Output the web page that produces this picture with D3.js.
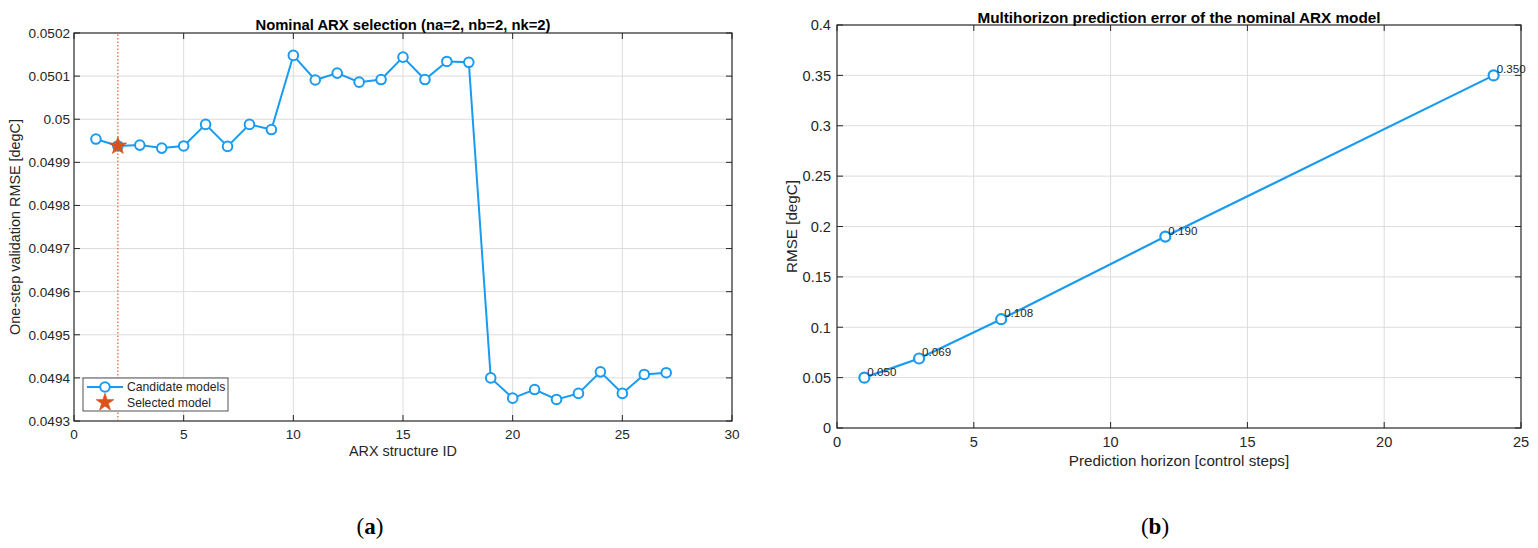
<!DOCTYPE html>
<html>
<head>
<meta charset="utf-8">
<script src="https://cdn.jsdelivr.net/npm/d3@7"></script>
<style>
  body { margin: 0; background: #fff; }
  svg { display: block; font-family: "Liberation Sans", Arial, sans-serif; }
  .tick-label { fill: #262626; }
  .axis-title { fill: #262626; }
  .plot-title { font-weight: bold; fill: #000; }
  .caption { font-family: "Liberation Serif", "DejaVu Serif", serif; font-size: 23px; fill: #000; }
</style>
</head>
<body>
<svg id="chart" width="1538" height="548"></svg>
<script>
// ---- panel (a): candidate ARX structures ----
const structureIds = d3.range(1, 28);
const validationRmse = [
    0.049954, 0.049938, 0.049940, 0.049933, 0.049938, 0.049988, 0.049937, 0.049988, 0.049976,
    0.050148, 0.050091, 0.050107, 0.050086, 0.050092, 0.050144, 0.050092, 0.050134, 0.050132,
    0.049400, 0.049353, 0.049373, 0.049350, 0.049364, 0.049414, 0.049364, 0.049408, 0.049412
];
const selectedId = 2;
const aXTicks = [0, 5, 10, 15, 20, 25, 30];
const aYTicks = [0.0493, 0.0494, 0.0495, 0.0496, 0.0497, 0.0498, 0.0499, 0.05, 0.0501, 0.0502];
const aYTickLabels = ["0.0493", "0.0494", "0.0495", "0.0496", "0.0497", "0.0498", "0.0499", "0.05", "0.0501", "0.0502"];

// ---- panel (b): multihorizon prediction ----
const horizons = [1, 3, 6, 12, 24];
const horizonRmse = [0.050, 0.069, 0.108, 0.190, 0.350];
const bXTicks = [0, 5, 10, 15, 20, 25];
const bYTicks = [0, 0.05, 0.1, 0.15, 0.2, 0.25, 0.3, 0.35, 0.4];
const bYTickLabels = ["0", "0.05", "0.1", "0.15", "0.2", "0.25", "0.3", "0.35", "0.4"];

const blue = "#1a9bf2";
const orange = "#d95319";
const axisColor = "#262626";
const gridColor = "#dcdcdc";

const svg = d3.select("#chart");

// draws grid, box and inward ticks for one MATLAB-style axes
function drawAxes(g, x, y, xTicks, yTicks, yLabels, opt) {
    let x0 = x.range()[0], x1 = x.range()[1];
    let y0 = y.range()[0], y1 = y.range()[1];
    let tl = 6;

    g.append("g").selectAll("line").data(xTicks.slice(1, -1)).join("line")
        .attr("x1", d => x(d)).attr("x2", d => x(d))
        .attr("y1", y0).attr("y2", y1)
        .attr("stroke", gridColor).attr("stroke-width", 1);
    g.append("g").selectAll("line").data(yTicks.slice(1, -1)).join("line")
        .attr("y1", d => y(d)).attr("y2", d => y(d))
        .attr("x1", x0).attr("x2", x1)
        .attr("stroke", gridColor).attr("stroke-width", 1);

    // inward ticks on all four sides
    let ticks = g.append("g").attr("stroke", axisColor).attr("stroke-width", 1);
    xTicks.forEach(d => {
        ticks.append("line").attr("x1", x(d)).attr("x2", x(d)).attr("y1", y0).attr("y2", y0 - tl);
        ticks.append("line").attr("x1", x(d)).attr("x2", x(d)).attr("y1", y1).attr("y2", y1 + tl);
    });
    yTicks.forEach(d => {
        ticks.append("line").attr("y1", y(d)).attr("y2", y(d)).attr("x1", x0).attr("x2", x0 + tl);
        ticks.append("line").attr("y1", y(d)).attr("y2", y(d)).attr("x1", x1).attr("x2", x1 - tl);
    });

    g.append("rect")
        .attr("x", x0).attr("y", y1)
        .attr("width", x1 - x0).attr("height", y0 - y1)
        .attr("fill", "none").attr("stroke", axisColor).attr("stroke-width", 1.2);

    g.append("g").selectAll("text").data(xTicks).join("text")
        .attr("class", "tick-label").attr("font-size", opt.tickSize)
        .attr("x", d => x(d)).attr("y", y0 + opt.xTickOffset)
        .attr("text-anchor", "middle")
        .text(d => d);
    g.append("g").selectAll("text").data(yTicks).join("text")
        .attr("class", "tick-label").attr("font-size", opt.tickSize)
        .attr("x", x0 - opt.yTickGap).attr("y", d => y(d) + opt.tickSize * 0.36)
        .attr("text-anchor", "end")
        .text((d, i) => yLabels[i]);

    g.append("text").attr("class", "axis-title").attr("font-size", opt.labelSize)
        .attr("x", (x0 + x1) / 2).attr("y", y0 + opt.xLabelOffset)
        .attr("text-anchor", "middle").text(opt.xLabel);
    g.append("text").attr("class", "axis-title").attr("font-size", opt.labelSize)
        .attr("transform", `translate(${opt.yLabelX},${(y0 + y1) / 2}) rotate(-90)`)
        .attr("text-anchor", "middle").text(opt.yLabel);
    g.append("text").attr("class", "plot-title").attr("font-size", opt.titleSize)
        .attr("x", (x0 + x1) / 2).attr("y", y1 - opt.titleGap)
        .attr("text-anchor", "middle").text(opt.title);
}

/* * * * panel (a) * * * */
let xa = d3.scaleLinear().domain([0, 30]).range([74, 732]);
let ya = d3.scaleLinear().domain([0.0493, 0.0502]).range([421, 33]);
let ga = svg.append("g");

drawAxes(ga, xa, ya, aXTicks, aYTicks, aYTickLabels, {
    tickSize: 13.6, labelSize: 14.4, titleSize: 14.8,
    xTickOffset: 18, yTickGap: 4, xLabelOffset: 35, yLabelX: 20, titleGap: 3,
    xLabel: "ARX structure ID",
    yLabel: "One-step validation RMSE [degC]",
    title: "Nominal ARX selection (na=2, nb=2, nk=2)"
});

// selected structure marker line
ga.append("line")
    .attr("x1", xa(selectedId)).attr("x2", xa(selectedId))
    .attr("y1", ya.range()[0]).attr("y2", ya.range()[1])
    .attr("stroke", orange).attr("stroke-width", 1.1)
    .attr("stroke-dasharray", "1.5,2");

let lineA = d3.line().x((d, i) => xa(structureIds[i])).y(d => ya(d));
ga.append("path").datum(validationRmse)
    .attr("d", lineA).attr("fill", "none")
    .attr("stroke", blue).attr("stroke-width", 2);

ga.append("g").selectAll("circle").data(validationRmse).join("circle")
    .attr("cx", (d, i) => xa(structureIds[i])).attr("cy", d => ya(d))
    .attr("r", 4.8).attr("fill", "#fff")
    .attr("stroke", blue).attr("stroke-width", 2);

let star = d3.symbol().type(d3.symbolStar).size(95);
ga.append("path")
    .attr("d", star)
    .attr("transform", `translate(${xa(selectedId)},${ya(validationRmse[selectedId - 1])})`)
    .attr("fill", orange).attr("stroke", orange).attr("stroke-width", 0.8);

// legend
let leg = ga.append("g").attr("transform", "translate(83,378)");
leg.append("rect").attr("width", 145).attr("height", 33)
    .attr("fill", "#fff").attr("stroke", axisColor).attr("stroke-width", 0.8);
leg.append("line").attr("x1", 4).attr("x2", 40).attr("y1", 9).attr("y2", 9)
    .attr("stroke", blue).attr("stroke-width", 2);
leg.append("circle").attr("cx", 22).attr("cy", 9).attr("r", 4.8)
    .attr("fill", "#fff").attr("stroke", blue).attr("stroke-width", 2);
leg.append("path").attr("d", star).attr("transform", "translate(22,24.5)")
    .attr("fill", orange).attr("stroke", orange).attr("stroke-width", 0.8);
leg.append("text").attr("class", "tick-label").attr("font-size", 12.2).attr("x", 44).attr("y", 13).text("Candidate models");
leg.append("text").attr("class", "tick-label").attr("font-size", 12.2).attr("x", 44).attr("y", 28.5).text("Selected model");

/* * * * panel (b) * * * */
let xb = d3.scaleLinear().domain([0, 25]).range([837, 1521]);
let yb = d3.scaleLinear().domain([0, 0.4]).range([428, 25]);
let gb = svg.append("g");

drawAxes(gb, xb, yb, bXTicks, bYTicks, bYTickLabels, {
    tickSize: 14.6, labelSize: 15.2, titleSize: 15.3,
    xTickOffset: 19, yTickGap: 6, xLabelOffset: 37.5, yLabelX: 797, titleGap: 2.5,
    xLabel: "Prediction horizon [control steps]",
    yLabel: "RMSE [degC]",
    title: "Multihorizon prediction error of the nominal ARX model"
});

let lineB = d3.line().x((d, i) => xb(horizons[i])).y(d => yb(d));
gb.append("path").datum(horizonRmse)
    .attr("d", lineB).attr("fill", "none")
    .attr("stroke", blue).attr("stroke-width", 2.2);

gb.append("g").selectAll("circle").data(horizonRmse).join("circle")
    .attr("cx", (d, i) => xb(horizons[i])).attr("cy", d => yb(d))
    .attr("r", 5).attr("fill", "#fff")
    .attr("stroke", blue).attr("stroke-width", 2.2);

gb.append("g").selectAll("text").data(horizonRmse).join("text")
    .attr("x", (d, i) => xb(horizons[i]) + 3).attr("y", d => yb(d) - 2)
    .attr("font-size", 11.6).attr("fill", axisColor)
    .text(d => d.toFixed(3));

// captions
svg.append("text").attr("class", "caption")
    .attr("x", 370).attr("y", 534).attr("text-anchor", "middle")
    .html('(<tspan font-weight="bold">a</tspan>)');
svg.append("text").attr("class", "caption")
    .attr("x", 1155).attr("y", 534).attr("text-anchor", "middle")
    .html('(<tspan font-weight="bold">b</tspan>)');
</script>
</body>
</html>
